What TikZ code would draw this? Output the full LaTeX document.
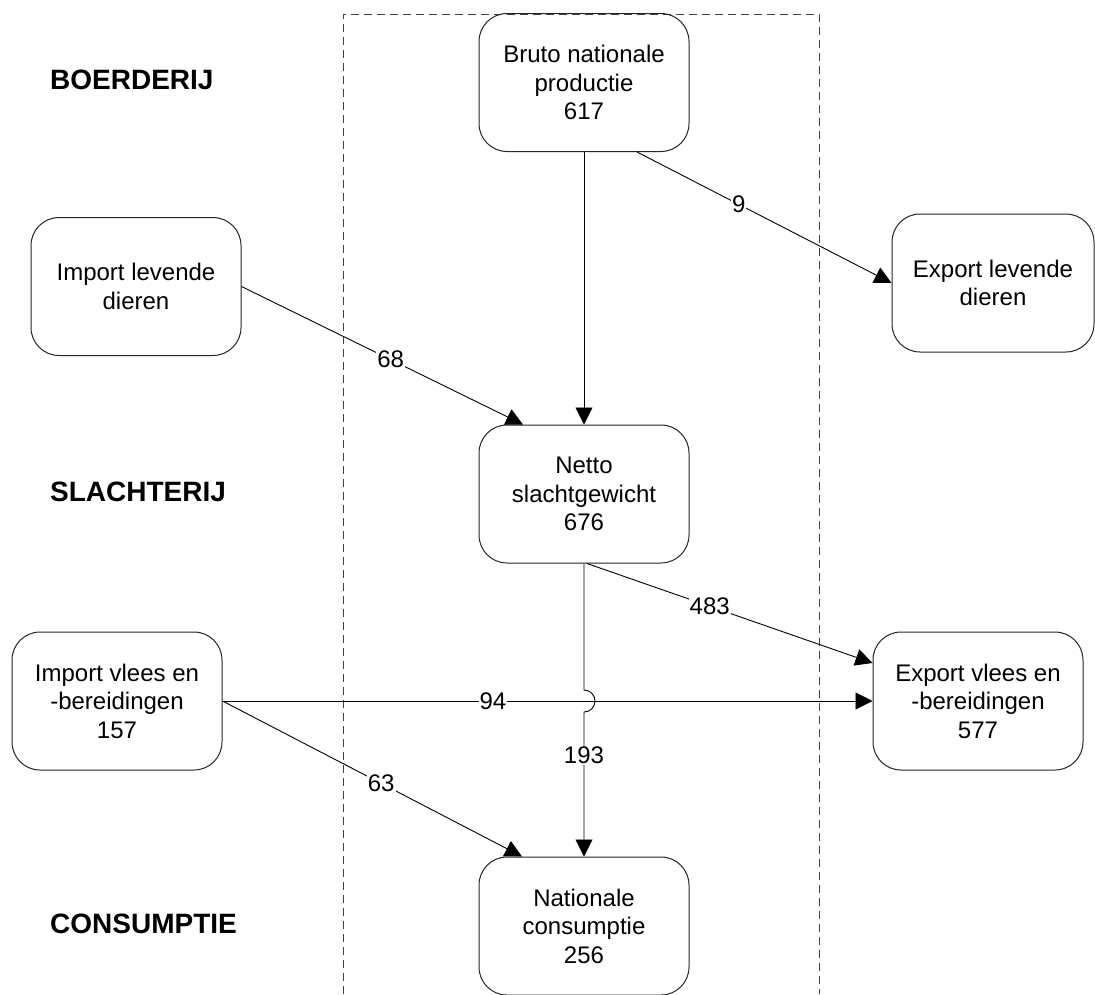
\documentclass[tikz,border=0pt]{standalone}
\usepackage{fontspec}
\setmainfont{Liberation Sans}
\usetikzlibrary{arrows.meta,calc}
\begin{document}
\begin{tikzpicture}[x=1pt,y=-1pt,
  box/.style={draw=black!85,line width=1pt,rounded corners=28pt,align=center,
    minimum width=210pt,minimum height=138pt,inner sep=0pt,
    font=\fontsize{24}{28.5}\selectfont},
  flow/.style={line width=0.9pt,-{Triangle[length=17pt,width=17pt]}},
  val/.style={fill=white,inner sep=1pt,font=\fontsize{24}{28}\selectfont},
  stage/.style={anchor=west,inner sep=0pt,font=\bfseries\fontsize{28}{32}\selectfont},
  zone/.style={draw=black!75,line width=0.9pt,dash pattern=on 8pt off 5pt}]
\clip (0,0) rectangle (1095,994);
\fill[white] (0,0) rectangle (1095,994);
% dashed zone
\draw[zone] (343,994) -- (343,14) -- (819,14) -- (819,994);
% nodes
\node[box] (bruto) at (584,82.5) {Bruto nationale\\productie\\617};
\node[box] (impl) at (136,286.5) {Import levende\\dieren};
\node[box,minimum width=202pt] (expl) at (993,283) {Export levende\\dieren};
\node[box] (netto) at (584,494) {Netto\\slachtgewicht\\676};
\node[box] (impv) at (117,701) {Import vlees en\\-bereidingen\\157};
\node[box] (expv) at (978,701) {Export vlees en\\-bereidingen\\577};
\node[box] (nat) at (584,926) {Nationale\\consumptie\\256};
% stage labels
\node[stage] (s1) at (50,80) {BOERDERIJ};
\node[stage] (s2) at (50,492) {SLACHTERIJ};
\node[stage] (s3) at (50,924) {CONSUMPTIE};
% flows
\draw[flow] (bruto.south) -- (netto.north);
\draw[flow] ([xshift=53pt]bruto.south) -- (expl.west) node[val,pos=0.40] {9};
\draw[flow] (impl.east) -- ([xshift=-61pt]netto.north) node[val,pos=0.53] {68};
\draw[flow] ([xshift=3pt]netto.south) -- ([yshift=38pt]expv.west) node[val,pos=0.43] {483};
\draw[flow] (impv.east) -- (expv.west) node[val,pos=0.416] {94};
\draw[flow] (impv.east) -- ([xshift=-62pt]nat.north) node[val,pos=0.53] {63};
\draw[flow] (netto.south) -- ([yshift=11pt]netto.south |- impv.east)
  arc[start angle=90,end angle=-90,radius=11pt] -- (nat.north);
\node[val] (l193) at (584,755) {193};
\end{tikzpicture}
\end{document}
